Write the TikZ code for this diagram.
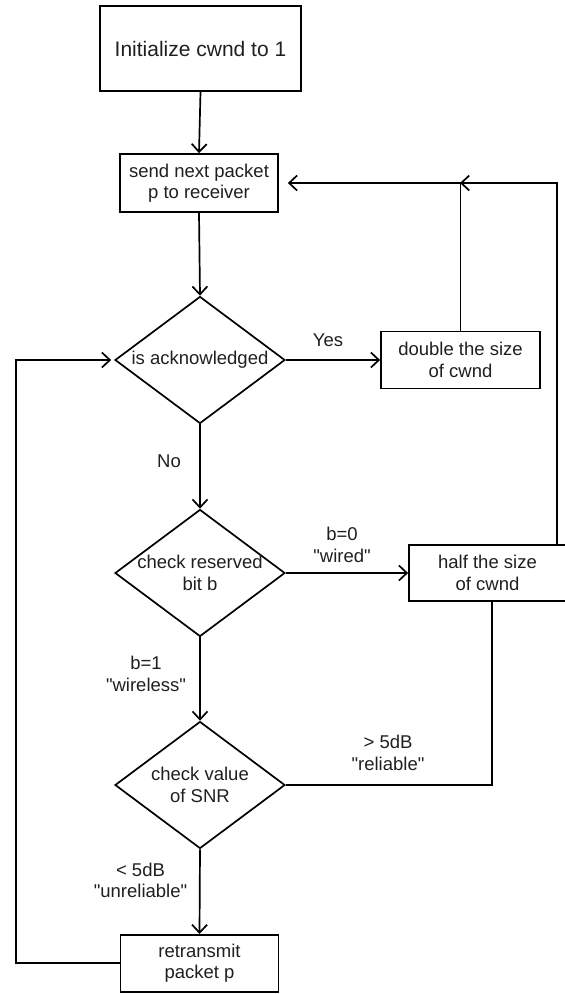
\documentclass[tikz,border=0pt]{standalone}
\usepackage{fontspec}
\setmainfont{Liberation Sans}[Ligatures=TeXOff]
\usetikzlibrary{shapes.geometric,arrows.meta}
\begin{document}
\begin{tikzpicture}[x=1pt,y=-1pt,
  every node/.style={font=\fontsize{18.5}{21.5}\selectfont, text=black!88},
  box/.style={draw, line width=1.7pt, rectangle, align=center, inner sep=0pt},
  dia/.style={draw, line width=1.7pt, diamond, minimum width=170pt, minimum height=127pt, inner sep=0pt},
  lbl/.style={align=center, inner sep=0pt},
  conn/.style={line width=1.7pt},
  arr/.style={conn, -{Straight Barb[length=8pt,width=15pt]}},
]
\useasboundingbox (0,0) rectangle (565,994);

% nodes
\node[box, minimum width=201pt, minimum height=85pt, font=\fontsize{21}{25}\selectfont] (init) at (200.5,48.5) {Initialize cwnd to 1};
\node[box, minimum width=158pt, minimum height=58pt] (send) at (199,183) {send next packet\\p to receiver};
\node[dia, label={[lbl]center:is acknowledged}] (ack) at (200,360) {};
\node[box, minimum width=159pt, minimum height=57pt] (dbl) at (460.5,360) {double the size\\of cwnd};
\node[dia, label={[lbl]center:check reserved\\bit b}] (chk) at (200,573) {};
\node[box, minimum width=157pt, minimum height=56pt] (half) at (487.5,573) {half the size\\of cwnd};
\node[dia, label={[lbl]center:check value\\of SNR}] (snr) at (200,785) {};
\node[box, minimum width=158pt, minimum height=57pt] (retx) at (199.5,963.3) {retransmit\\packet p};

% helper coordinates
\coordinate (htop) at (557,545);
\coordinate (hbot) at (492,601);
\coordinate (junc) at (460,183);
\coordinate (lft) at (16,963.3);

% edge labels
\node[lbl] (yes) at (328,340) {Yes};
\node[lbl] (no) at (169,461) {No};
\node[lbl] (b0) at (342,545) {b=0\\"wired"};
\node[lbl] (b1) at (146,674) {b=1\\"wireless"};
\node[lbl] (rel) at (388,753) {> 5dB\\"reliable"};
\node[lbl] (unrel) at (140.5,880.5) {< 5dB\\"unreliable"};

% connectors
\draw[arr] (init.south) -- (send.north);
\draw[arr] (send.south) -- (ack.north);
\draw[arr] (ack.east) -- (dbl.west);
\draw[arr] (ack.south) -- (chk.north);
\draw[arr] (chk.east) -- (half.west);
\draw[arr] (chk.south) -- (snr.north);
\draw[arr] (snr.south) -- (retx.north);
\draw[conn] (snr.east) -| (hbot);
\draw[arr, shorten >=9pt] (dbl.north) |- (send.east);
\draw[arr] (htop) |- (junc);
\draw[arr, shorten >=3pt] (retx.west) -- (lft) |- (ack.west);
\end{tikzpicture}
\end{document}
